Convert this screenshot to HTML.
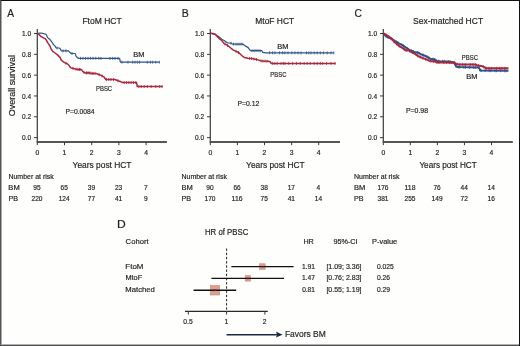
<!DOCTYPE html>
<html><head><meta charset="utf-8"><style>
html,body{margin:0;padding:0;background:#fff;}
body{width:520px;height:346px;overflow:hidden;}
svg{display:block;}
text{font-family:"Liberation Sans", sans-serif;fill:#1e1e1e;stroke:#1e1e1e;stroke-width:0.18px;}
svg{will-change:transform;}
</style></head><body>
<svg width="520" height="346" viewBox="0 0 520 346">
<rect x="0" y="0" width="520" height="346" fill="#fefefd"/>
<text x="7.23" y="16.5" font-size="10.8" textLength="6.79" lengthAdjust="spacingAndGlyphs">A</text>
<text x="82.4" y="23.6" font-size="8.7" textLength="39.29" lengthAdjust="spacingAndGlyphs">FtoM HCT</text>
<line x1="37.3" y1="29" x2="37.3" y2="142" stroke="#3a3a3a" stroke-width="1.2"/>
<line x1="36.699999999999996" y1="142" x2="166.9" y2="142" stroke="#555" stroke-width="1.9"/>
<line x1="34.0" y1="137.60" x2="37.3" y2="137.60" stroke="#3a3a3a" stroke-width="1"/>
<text x="31.099999999999998" y="140.15" font-size="7.3" text-anchor="end" textLength="9.13" lengthAdjust="spacingAndGlyphs">0.0</text>
<line x1="34.0" y1="116.78" x2="37.3" y2="116.78" stroke="#3a3a3a" stroke-width="1"/>
<text x="31.099999999999998" y="119.33" font-size="7.3" text-anchor="end" textLength="9.13" lengthAdjust="spacingAndGlyphs">0.2</text>
<line x1="34.0" y1="95.96" x2="37.3" y2="95.96" stroke="#3a3a3a" stroke-width="1"/>
<text x="31.099999999999998" y="98.50999999999999" font-size="7.3" text-anchor="end" textLength="9.13" lengthAdjust="spacingAndGlyphs">0.4</text>
<line x1="34.0" y1="75.14" x2="37.3" y2="75.14" stroke="#3a3a3a" stroke-width="1"/>
<text x="31.099999999999998" y="77.68999999999998" font-size="7.3" text-anchor="end" textLength="9.13" lengthAdjust="spacingAndGlyphs">0.6</text>
<line x1="34.0" y1="54.32" x2="37.3" y2="54.32" stroke="#3a3a3a" stroke-width="1"/>
<text x="31.099999999999998" y="56.86999999999999" font-size="7.3" text-anchor="end" textLength="9.13" lengthAdjust="spacingAndGlyphs">0.8</text>
<line x1="34.0" y1="33.50" x2="37.3" y2="33.50" stroke="#3a3a3a" stroke-width="1"/>
<text x="31.099999999999998" y="36.05" font-size="7.3" text-anchor="end" textLength="9.13" lengthAdjust="spacingAndGlyphs">1.0</text>
<line x1="37.30" y1="142" x2="37.30" y2="145.2" stroke="#3a3a3a" stroke-width="1"/>
<text x="37.30" y="154.8" font-size="7.4" text-anchor="middle" textLength="3.79" lengthAdjust="spacingAndGlyphs">0</text>
<line x1="64.50" y1="142" x2="64.50" y2="145.2" stroke="#3a3a3a" stroke-width="1"/>
<text x="64.50" y="154.8" font-size="7.4" text-anchor="middle" textLength="3.79" lengthAdjust="spacingAndGlyphs">1</text>
<line x1="91.70" y1="142" x2="91.70" y2="145.2" stroke="#3a3a3a" stroke-width="1"/>
<text x="91.70" y="154.8" font-size="7.4" text-anchor="middle" textLength="3.79" lengthAdjust="spacingAndGlyphs">2</text>
<line x1="118.90" y1="142" x2="118.90" y2="145.2" stroke="#3a3a3a" stroke-width="1"/>
<text x="118.90" y="154.8" font-size="7.4" text-anchor="middle" textLength="3.79" lengthAdjust="spacingAndGlyphs">3</text>
<line x1="146.10" y1="142" x2="146.10" y2="145.2" stroke="#3a3a3a" stroke-width="1"/>
<text x="146.10" y="154.8" font-size="7.4" text-anchor="middle" textLength="3.79" lengthAdjust="spacingAndGlyphs">4</text>
<text x="72.62" y="167.7" font-size="9.3" textLength="58.87" lengthAdjust="spacingAndGlyphs">Years post HCT</text>
<text x="8.43" y="179.4" font-size="7.3" textLength="45.31" lengthAdjust="spacingAndGlyphs">Number at risk</text>
<text x="8.38" y="190.4" font-size="7.3" textLength="11.34" lengthAdjust="spacingAndGlyphs">BM</text>
<text x="8.41" y="201.3" font-size="7.3" textLength="9.57" lengthAdjust="spacingAndGlyphs">PB</text>
<text x="37.00" y="190.4" font-size="7.3" text-anchor="middle" textLength="7.31" lengthAdjust="spacingAndGlyphs">95</text>
<text x="37.00" y="201.3" font-size="7.3" text-anchor="middle" textLength="10.96" lengthAdjust="spacingAndGlyphs">220</text>
<text x="64.20" y="190.4" font-size="7.3" text-anchor="middle" textLength="7.31" lengthAdjust="spacingAndGlyphs">65</text>
<text x="64.20" y="201.3" font-size="7.3" text-anchor="middle" textLength="10.96" lengthAdjust="spacingAndGlyphs">124</text>
<text x="91.40" y="190.4" font-size="7.3" text-anchor="middle" textLength="7.31" lengthAdjust="spacingAndGlyphs">39</text>
<text x="91.40" y="201.3" font-size="7.3" text-anchor="middle" textLength="7.31" lengthAdjust="spacingAndGlyphs">77</text>
<text x="118.60" y="190.4" font-size="7.3" text-anchor="middle" textLength="7.31" lengthAdjust="spacingAndGlyphs">23</text>
<text x="118.60" y="201.3" font-size="7.3" text-anchor="middle" textLength="7.31" lengthAdjust="spacingAndGlyphs">41</text>
<text x="145.80" y="190.4" font-size="7.3" text-anchor="middle" textLength="3.65" lengthAdjust="spacingAndGlyphs">7</text>
<text x="145.80" y="201.3" font-size="7.3" text-anchor="middle" textLength="3.65" lengthAdjust="spacingAndGlyphs">9</text>
<path d="M37.5,33.3 L40.6,33.0 L42.5,33.3 L44.4,33.9 L46.2,34.3 L46.9,36.1 L47.5,37.4 L48.7,38.6 L50.0,39.5 L51.2,41.1 L52.5,43.0 L53.7,44.9 L55.0,46.1 L56.2,48.0 L59.4,48.0 L60.6,49.2 L61.2,50.9 L68.5,50.8 L69.7,52.3 L71.2,53.5 L75.2,53.5 L75.9,55.9 L76.7,57.0 L78.3,58.3 L119.6,58.4 L120.4,62.2 L159.6,62.2" fill="none" stroke="#2f5287" stroke-width="1.2" stroke-linejoin="round"/>
<path d="M80.5,56.8v3.0M83.0,56.8v3.0M85.5,56.8v3.0M88.0,56.8v3.0M90.5,56.8v3.0M93.0,56.8v3.0M95.8,56.8v3.0M98.8,56.8v3.0M101.0,56.9v3.0M110.0,56.9v3.0M112.7,56.9v3.0M115.0,56.9v3.0M118.0,56.9v3.0M122.0,60.7v3.0M128.0,60.7v3.0M132.7,60.7v3.0M135.0,60.7v3.0M137.3,60.7v3.0M139.6,60.7v3.0M147.3,60.7v3.0M150.4,60.7v3.0M152.7,60.7v3.0M155.8,60.7v3.0M159.3,60.7v3.0M57.0,46.5v3.0M63.0,49.4v3.0M66.0,49.3v3.0M72.0,52.0v3.0" stroke="#2f5287" stroke-width="0.8"/>
<path d="M37.5,33.3 L39.4,34.9 L41.2,36.7 L43.1,37.7 L45.0,38.6 L46.2,39.9 L47.5,42.4 L48.7,44.2 L50.0,46.1 L51.2,49.2 L52.5,51.1 L55.0,53.0 L57.5,54.9 L60.0,57.4 L61.2,59.9 L63.1,61.7 L65.0,62.9 L67.3,63.7 L68.9,65.2 L70.1,67.2 L71.2,68.0 L73.6,68.4 L75.2,69.1 L77.5,69.4 L81.4,69.5 L82.2,70.7 L83.7,72.3 L85.3,73.0 L88.4,72.7 L91.6,73.4 L96.2,73.4 L98.0,74.2 L101.2,75.4 L104.2,77.2 L105.8,79.5 L115.0,79.5 L118.0,80.8 L121.2,81.8 L122.7,82.6 L136.5,82.6 L137.3,86.5 L162.7,86.5" fill="none" stroke="#a7283f" stroke-width="1.5" stroke-linejoin="round"/>
<path d="M66.0,61.7v3.0M73.0,66.8v3.0M76.0,67.7v3.0M79.5,68.0v3.0M84.0,70.9v3.0M86.5,71.4v3.0M89.0,71.3v3.0M92.0,71.9v3.0M95.0,71.9v3.0M99.0,73.1v3.0M102.0,74.4v3.0M106.5,78.0v3.0M108.8,78.0v3.0M111.0,78.0v3.0M113.5,78.0v3.0M118.0,79.3v3.0M124.2,81.1v3.0M126.5,81.1v3.0M128.8,81.1v3.0M131.2,81.1v3.0M133.5,81.1v3.0M135.8,81.1v3.0M138.8,85.0v3.0M141.2,85.0v3.0M144.2,85.0v3.0M147.3,85.0v3.0M151.2,85.0v3.0M155.8,85.0v3.0M159.6,85.0v3.0M162.0,85.0v3.0M78.0,67.9v3.0M80.0,68.0v3.0M87.0,71.3v3.0M90.0,71.6v3.0M93.0,71.9v3.0" stroke="#a7283f" stroke-width="0.8"/>
<text x="133.29" y="56.9" font-size="7.2" textLength="11.23" lengthAdjust="spacingAndGlyphs">BM</text>
<text x="96.01" y="90.8" font-size="7.0" textLength="16.11" lengthAdjust="spacingAndGlyphs">PBSC</text>
<text x="65.45" y="113.75" font-size="7.2" textLength="29.15" lengthAdjust="spacingAndGlyphs">P=0.0084</text>
<text x="181.64" y="16.5" font-size="10.8" textLength="7.02" lengthAdjust="spacingAndGlyphs">B</text>
<text x="255.31" y="23.6" font-size="8.7" textLength="38.89" lengthAdjust="spacingAndGlyphs">MtoF HCT</text>
<line x1="210.3" y1="29" x2="210.3" y2="142" stroke="#3a3a3a" stroke-width="1.2"/>
<line x1="209.70000000000002" y1="142" x2="340" y2="142" stroke="#555" stroke-width="1.9"/>
<line x1="207.0" y1="137.60" x2="210.3" y2="137.60" stroke="#3a3a3a" stroke-width="1"/>
<text x="204.10000000000002" y="140.15" font-size="7.3" text-anchor="end" textLength="9.13" lengthAdjust="spacingAndGlyphs">0.0</text>
<line x1="207.0" y1="116.78" x2="210.3" y2="116.78" stroke="#3a3a3a" stroke-width="1"/>
<text x="204.10000000000002" y="119.33" font-size="7.3" text-anchor="end" textLength="9.13" lengthAdjust="spacingAndGlyphs">0.2</text>
<line x1="207.0" y1="95.96" x2="210.3" y2="95.96" stroke="#3a3a3a" stroke-width="1"/>
<text x="204.10000000000002" y="98.50999999999999" font-size="7.3" text-anchor="end" textLength="9.13" lengthAdjust="spacingAndGlyphs">0.4</text>
<line x1="207.0" y1="75.14" x2="210.3" y2="75.14" stroke="#3a3a3a" stroke-width="1"/>
<text x="204.10000000000002" y="77.68999999999998" font-size="7.3" text-anchor="end" textLength="9.13" lengthAdjust="spacingAndGlyphs">0.6</text>
<line x1="207.0" y1="54.32" x2="210.3" y2="54.32" stroke="#3a3a3a" stroke-width="1"/>
<text x="204.10000000000002" y="56.86999999999999" font-size="7.3" text-anchor="end" textLength="9.13" lengthAdjust="spacingAndGlyphs">0.8</text>
<line x1="207.0" y1="33.50" x2="210.3" y2="33.50" stroke="#3a3a3a" stroke-width="1"/>
<text x="204.10000000000002" y="36.05" font-size="7.3" text-anchor="end" textLength="9.13" lengthAdjust="spacingAndGlyphs">1.0</text>
<line x1="210.30" y1="142" x2="210.30" y2="145.2" stroke="#3a3a3a" stroke-width="1"/>
<text x="210.30" y="154.8" font-size="7.4" text-anchor="middle" textLength="3.79" lengthAdjust="spacingAndGlyphs">0</text>
<line x1="237.40" y1="142" x2="237.40" y2="145.2" stroke="#3a3a3a" stroke-width="1"/>
<text x="237.40" y="154.8" font-size="7.4" text-anchor="middle" textLength="3.79" lengthAdjust="spacingAndGlyphs">1</text>
<line x1="264.50" y1="142" x2="264.50" y2="145.2" stroke="#3a3a3a" stroke-width="1"/>
<text x="264.50" y="154.8" font-size="7.4" text-anchor="middle" textLength="3.79" lengthAdjust="spacingAndGlyphs">2</text>
<line x1="291.60" y1="142" x2="291.60" y2="145.2" stroke="#3a3a3a" stroke-width="1"/>
<text x="291.60" y="154.8" font-size="7.4" text-anchor="middle" textLength="3.79" lengthAdjust="spacingAndGlyphs">3</text>
<line x1="318.70" y1="142" x2="318.70" y2="145.2" stroke="#3a3a3a" stroke-width="1"/>
<text x="318.70" y="154.8" font-size="7.4" text-anchor="middle" textLength="3.79" lengthAdjust="spacingAndGlyphs">4</text>
<text x="246.12" y="167.7" font-size="9.3" textLength="58.47" lengthAdjust="spacingAndGlyphs">Years post HCT</text>
<text x="181.53" y="179.4" font-size="7.3" textLength="45.36" lengthAdjust="spacingAndGlyphs">Number at risk</text>
<text x="181.48" y="190.4" font-size="7.3" textLength="11.34" lengthAdjust="spacingAndGlyphs">BM</text>
<text x="181.51" y="201.3" font-size="7.3" textLength="9.57" lengthAdjust="spacingAndGlyphs">PB</text>
<text x="210.00" y="190.4" font-size="7.3" text-anchor="middle" textLength="7.31" lengthAdjust="spacingAndGlyphs">90</text>
<text x="210.00" y="201.3" font-size="7.3" text-anchor="middle" textLength="10.96" lengthAdjust="spacingAndGlyphs">170</text>
<text x="237.10" y="190.4" font-size="7.3" text-anchor="middle" textLength="7.31" lengthAdjust="spacingAndGlyphs">66</text>
<text x="237.10" y="201.3" font-size="7.3" text-anchor="middle" textLength="10.96" lengthAdjust="spacingAndGlyphs">116</text>
<text x="264.20" y="190.4" font-size="7.3" text-anchor="middle" textLength="7.31" lengthAdjust="spacingAndGlyphs">38</text>
<text x="264.20" y="201.3" font-size="7.3" text-anchor="middle" textLength="7.31" lengthAdjust="spacingAndGlyphs">75</text>
<text x="291.30" y="190.4" font-size="7.3" text-anchor="middle" textLength="7.31" lengthAdjust="spacingAndGlyphs">17</text>
<text x="291.30" y="201.3" font-size="7.3" text-anchor="middle" textLength="7.31" lengthAdjust="spacingAndGlyphs">41</text>
<text x="318.40" y="190.4" font-size="7.3" text-anchor="middle" textLength="3.65" lengthAdjust="spacingAndGlyphs">4</text>
<text x="318.40" y="201.3" font-size="7.3" text-anchor="middle" textLength="7.31" lengthAdjust="spacingAndGlyphs">14</text>
<path d="M210.5,33.3 L214.2,34.2 L216.7,35.5 L219.2,37.0 L221.7,39.2 L224.2,40.5 L226.7,42.4 L228.0,43.0 L231.1,43.2 L233.0,44.2 L243.0,44.2 L245.5,46.1 L248.0,47.4 L249.2,49.2 L250.5,50.7 L261.7,50.7 L263.0,52.4 L265.5,52.8 L333.8,52.9" fill="none" stroke="#2f5287" stroke-width="1.2" stroke-linejoin="round"/>
<path d="M269.5,51.3v3.0M272.6,51.3v3.0M274.9,51.3v3.0M279.5,51.3v3.0M282.6,51.3v3.0M284.9,51.3v3.0M288.0,51.3v3.0M291.8,51.3v3.0M294.9,51.3v3.0M298.0,51.3v3.0M301.0,51.4v3.0M306.5,51.4v3.0M308.8,51.4v3.0M311.0,51.4v3.0M314.2,51.4v3.0M317.2,51.4v3.0M320.3,51.4v3.0M323.4,51.4v3.0M327.2,51.4v3.0M331.0,51.4v3.0M333.8,51.4v3.0M231.0,41.7v3.0M233.5,42.7v3.0M236.0,42.7v3.0M238.0,42.7v3.0M240.0,42.7v3.0M242.0,42.7v3.0M252.0,49.2v3.0M254.0,49.2v3.0M256.0,49.2v3.0M258.0,49.2v3.0M260.0,49.2v3.0" stroke="#2f5287" stroke-width="0.8"/>
<path d="M210.5,33.3 L213.0,33.6 L215.5,34.2 L217.4,36.7 L219.2,38.6 L221.7,40.5 L224.2,43.6 L226.7,44.9 L229.2,46.7 L233.0,49.9 L236.7,51.7 L239.2,53.0 L241.7,55.5 L244.2,57.4 L248.0,58.2 L251.7,58.6 L255.5,59.2 L258.0,59.9 L260.5,60.7 L263.0,61.1 L268.0,61.2 L270.3,61.8 L271.1,63.4 L335.7,63.4" fill="none" stroke="#a7283f" stroke-width="1.5" stroke-linejoin="round"/>
<path d="M272.6,61.9v3.0M274.9,61.9v3.0M277.2,61.9v3.0M281.0,61.9v3.0M283.4,61.9v3.0M284.9,61.9v3.0M288.8,61.9v3.0M292.6,61.9v3.0M296.5,61.9v3.0M300.3,61.9v3.0M304.2,61.9v3.0M307.2,61.9v3.0M310.3,61.9v3.0M314.2,61.9v3.0M317.2,61.9v3.0M320.3,61.9v3.0M322.6,61.9v3.0M326.5,61.9v3.0M331.0,61.9v3.0M334.9,61.9v3.0M225.0,42.5v3.0M227.5,44.0v3.0M236.0,49.9v3.0M238.5,51.1v3.0M249.5,56.9v3.0M251.5,57.1v3.0M254.0,57.5v3.0M256.5,58.0v3.0M261.0,59.3v3.0M263.0,59.6v3.0M265.0,59.6v3.0M267.0,59.7v3.0" stroke="#a7283f" stroke-width="0.8"/>
<text x="277.39" y="49.2" font-size="7.2" textLength="11.23" lengthAdjust="spacingAndGlyphs">BM</text>
<text x="270.31" y="77.2" font-size="7.0" textLength="16.11" lengthAdjust="spacingAndGlyphs">PBSC</text>
<text x="237.54" y="106.4" font-size="7.2" textLength="21.8" lengthAdjust="spacingAndGlyphs">P=0.12</text>
<text x="354.48" y="16.5" font-size="10.8" textLength="7.41" lengthAdjust="spacingAndGlyphs">C</text>
<text x="413.11" y="23.6" font-size="8.7" textLength="69.98" lengthAdjust="spacingAndGlyphs">Sex-matched HCT</text>
<line x1="383.3" y1="29" x2="383.3" y2="142" stroke="#3a3a3a" stroke-width="1.2"/>
<line x1="382.7" y1="142" x2="512.8" y2="142" stroke="#555" stroke-width="1.9"/>
<line x1="380.0" y1="137.60" x2="383.3" y2="137.60" stroke="#3a3a3a" stroke-width="1"/>
<text x="377.1" y="140.15" font-size="7.3" text-anchor="end" textLength="9.13" lengthAdjust="spacingAndGlyphs">0.0</text>
<line x1="380.0" y1="116.78" x2="383.3" y2="116.78" stroke="#3a3a3a" stroke-width="1"/>
<text x="377.1" y="119.33" font-size="7.3" text-anchor="end" textLength="9.13" lengthAdjust="spacingAndGlyphs">0.2</text>
<line x1="380.0" y1="95.96" x2="383.3" y2="95.96" stroke="#3a3a3a" stroke-width="1"/>
<text x="377.1" y="98.50999999999999" font-size="7.3" text-anchor="end" textLength="9.13" lengthAdjust="spacingAndGlyphs">0.4</text>
<line x1="380.0" y1="75.14" x2="383.3" y2="75.14" stroke="#3a3a3a" stroke-width="1"/>
<text x="377.1" y="77.68999999999998" font-size="7.3" text-anchor="end" textLength="9.13" lengthAdjust="spacingAndGlyphs">0.6</text>
<line x1="380.0" y1="54.32" x2="383.3" y2="54.32" stroke="#3a3a3a" stroke-width="1"/>
<text x="377.1" y="56.86999999999999" font-size="7.3" text-anchor="end" textLength="9.13" lengthAdjust="spacingAndGlyphs">0.8</text>
<line x1="380.0" y1="33.50" x2="383.3" y2="33.50" stroke="#3a3a3a" stroke-width="1"/>
<text x="377.1" y="36.05" font-size="7.3" text-anchor="end" textLength="9.13" lengthAdjust="spacingAndGlyphs">1.0</text>
<line x1="383.30" y1="142" x2="383.30" y2="145.2" stroke="#3a3a3a" stroke-width="1"/>
<text x="383.30" y="154.8" font-size="7.4" text-anchor="middle" textLength="3.79" lengthAdjust="spacingAndGlyphs">0</text>
<line x1="410.35" y1="142" x2="410.35" y2="145.2" stroke="#3a3a3a" stroke-width="1"/>
<text x="410.35" y="154.8" font-size="7.4" text-anchor="middle" textLength="3.79" lengthAdjust="spacingAndGlyphs">1</text>
<line x1="437.40" y1="142" x2="437.40" y2="145.2" stroke="#3a3a3a" stroke-width="1"/>
<text x="437.40" y="154.8" font-size="7.4" text-anchor="middle" textLength="3.79" lengthAdjust="spacingAndGlyphs">2</text>
<line x1="464.45" y1="142" x2="464.45" y2="145.2" stroke="#3a3a3a" stroke-width="1"/>
<text x="464.45" y="154.8" font-size="7.4" text-anchor="middle" textLength="3.79" lengthAdjust="spacingAndGlyphs">3</text>
<line x1="491.50" y1="142" x2="491.50" y2="145.2" stroke="#3a3a3a" stroke-width="1"/>
<text x="491.50" y="154.8" font-size="7.4" text-anchor="middle" textLength="3.79" lengthAdjust="spacingAndGlyphs">4</text>
<text x="419.42" y="167.7" font-size="9.3" textLength="57.26" lengthAdjust="spacingAndGlyphs">Years post HCT</text>
<text x="354.03" y="179.4" font-size="7.3" textLength="45.36" lengthAdjust="spacingAndGlyphs">Number at risk</text>
<text x="353.98" y="190.4" font-size="7.3" textLength="11.34" lengthAdjust="spacingAndGlyphs">BM</text>
<text x="354.01" y="201.3" font-size="7.3" textLength="9.57" lengthAdjust="spacingAndGlyphs">PB</text>
<text x="383.00" y="190.4" font-size="7.3" text-anchor="middle" textLength="10.96" lengthAdjust="spacingAndGlyphs">176</text>
<text x="383.00" y="201.3" font-size="7.3" text-anchor="middle" textLength="10.96" lengthAdjust="spacingAndGlyphs">381</text>
<text x="410.05" y="190.4" font-size="7.3" text-anchor="middle" textLength="10.96" lengthAdjust="spacingAndGlyphs">118</text>
<text x="410.05" y="201.3" font-size="7.3" text-anchor="middle" textLength="10.96" lengthAdjust="spacingAndGlyphs">255</text>
<text x="437.10" y="190.4" font-size="7.3" text-anchor="middle" textLength="7.31" lengthAdjust="spacingAndGlyphs">76</text>
<text x="437.10" y="201.3" font-size="7.3" text-anchor="middle" textLength="10.96" lengthAdjust="spacingAndGlyphs">149</text>
<text x="464.15" y="190.4" font-size="7.3" text-anchor="middle" textLength="7.31" lengthAdjust="spacingAndGlyphs">44</text>
<text x="464.15" y="201.3" font-size="7.3" text-anchor="middle" textLength="7.31" lengthAdjust="spacingAndGlyphs">72</text>
<text x="491.20" y="190.4" font-size="7.3" text-anchor="middle" textLength="7.31" lengthAdjust="spacingAndGlyphs">14</text>
<text x="491.20" y="201.3" font-size="7.3" text-anchor="middle" textLength="7.31" lengthAdjust="spacingAndGlyphs">16</text>
<path d="M383.5,33.5 L386.2,36.6 L391.7,38.9 L395.0,41.1 L398.9,43.4 L402.8,45.4 L406.7,48.1 L410.6,50.5 L414.5,52.0 L416.9,52.4 L418.4,52.8 L422.3,54.8 L426.2,56.3 L430.2,58.7 L435.0,59.6 L436.9,60.9 L440.0,61.2 L447.8,61.6 L453.9,62.2 L455.5,65.2 L456.2,66.7 L459.4,67.1 L478.1,67.5 L479.7,68.7 L480.1,70.6 L508.5,70.8" fill="none" stroke="#2f5287" stroke-width="2.0" stroke-linejoin="round"/>
<path d="M388.0,35.9v3.0M392.1,37.7v3.0M396.2,40.3v3.0M397.8,41.3v3.0M401.9,43.4v3.0M403.5,44.4v3.0M407.6,47.2v3.0M411.7,49.4v3.0M413.3,50.0v3.0M417.4,51.0v3.0M419.0,51.6v3.0M423.1,53.6v3.0M427.2,55.4v3.0M428.8,56.3v3.0M432.9,57.7v3.0M434.5,58.0v3.0M438.6,59.6v3.0M442.7,59.8v3.0M444.3,59.9v3.0M448.4,60.2v3.0M450.0,60.3v3.0M454.1,61.1v3.0M458.2,65.5v3.0M459.8,65.6v3.0M463.9,65.7v3.0M465.5,65.7v3.0M469.6,65.8v3.0M473.7,65.9v3.0M475.3,65.9v3.0M479.4,67.0v3.0M481.0,69.1v3.0M485.1,69.1v3.0M489.2,69.2v3.0M490.8,69.2v3.0M494.9,69.2v3.0M496.5,69.2v3.0M500.6,69.2v3.0M504.7,69.3v3.0M506.3,69.3v3.0" stroke="#2f5287" stroke-width="0.8"/>
<path d="M383.5,33.5 L387.8,35.8 L391.7,38.9 L395.0,42.6 L398.9,45.8 L402.8,48.1 L405.9,50.5 L408.3,50.1 L410.6,51.6 L414.5,53.6 L418.4,56.3 L422.3,57.9 L426.2,59.4 L430.2,61.0 L435.0,61.4 L436.9,62.5 L441.6,62.6 L447.8,62.6 L451.7,62.7 L454.7,62.8 L456.2,64.0 L459.4,64.6 L475.8,64.6 L477.3,65.4 L481.2,65.9 L484.4,67.1 L485.9,68.3 L508.5,68.3" fill="none" stroke="#a7283f" stroke-width="2.0" stroke-linejoin="round"/>
<path d="M386.0,33.3v3.0M391.1,36.9v3.0M393.8,39.8v3.0M396.5,42.3v3.0M399.2,44.5v3.0M404.3,47.8v3.0M407.0,48.8v3.0M409.7,49.5v3.0M412.4,51.0v3.0M417.5,54.2v3.0M420.2,55.5v3.0M422.9,56.6v3.0M425.6,57.7v3.0M430.7,59.5v3.0M433.4,59.8v3.0M436.1,60.5v3.0M438.8,61.0v3.0M443.9,61.1v3.0M446.6,61.1v3.0M449.3,61.1v3.0M452.0,61.2v3.0M457.1,62.7v3.0M459.8,63.1v3.0M462.5,63.1v3.0M465.2,63.1v3.0M470.3,63.1v3.0M473.0,63.1v3.0M475.7,63.1v3.0M478.4,64.0v3.0M483.5,65.3v3.0M486.2,66.8v3.0M488.9,66.8v3.0M491.6,66.8v3.0M496.7,66.8v3.0M499.4,66.8v3.0M502.1,66.8v3.0M504.8,66.8v3.0" stroke="#a7283f" stroke-width="0.8"/>
<text x="461.81" y="60.4" font-size="7.0" textLength="16.11" lengthAdjust="spacingAndGlyphs">PBSC</text>
<text x="466.29" y="79.2" font-size="7.2" textLength="11.23" lengthAdjust="spacingAndGlyphs">BM</text>
<text x="405.93" y="113.1" font-size="7.2" textLength="22.12" lengthAdjust="spacingAndGlyphs">P=0.98</text>
<text transform="translate(14.8,116.2) rotate(-90)" font-size="9.5" textLength="61.2" lengthAdjust="spacingAndGlyphs">Overall survival</text>
<text x="117.11" y="227.75" font-size="10.0" textLength="8.72" lengthAdjust="spacingAndGlyphs">D</text>
<text x="204.96" y="234.8" font-size="9.0" textLength="43.44" lengthAdjust="spacingAndGlyphs">HR of PBSC</text>
<text x="125.61" y="244" font-size="8.0" textLength="22.94" lengthAdjust="spacingAndGlyphs">Cohort</text>
<text x="303.41" y="243.75" font-size="7.3" textLength="10.43" lengthAdjust="spacingAndGlyphs">HR</text>
<text x="333.41" y="243.75" font-size="7.3" textLength="24.16" lengthAdjust="spacingAndGlyphs">95%-CI</text>
<text x="372.14" y="243.75" font-size="7.3" textLength="25.09" lengthAdjust="spacingAndGlyphs">P-value</text>
<line x1="226.6" y1="248.5" x2="226.6" y2="311" stroke="#222" stroke-width="1" stroke-dasharray="2.4,1.8"/>
<text x="125.35" y="269" font-size="7.4" textLength="18.05" lengthAdjust="spacingAndGlyphs">FtoM</text>
<rect x="259.56" y="263.80" width="5.6" height="5.6" fill="#dda192" stroke="#cc8272" stroke-width="0.6"/>
<line x1="231.36" y1="266.6" x2="293.57" y2="266.6" stroke="#111" stroke-width="1.4"/>
<circle cx="262.36" cy="266.6" r="0.9" fill="#333"/>
<text x="301.89" y="269" font-size="7.3" textLength="13.04" lengthAdjust="spacingAndGlyphs">1.91</text>
<text x="326.4" y="269" font-size="7.3" textLength="35.1" lengthAdjust="spacingAndGlyphs">[1.09; 3.36]</text>
<text x="376.9" y="269" font-size="7.3" textLength="16.81" lengthAdjust="spacingAndGlyphs">0.025</text>
<text x="125.39" y="280.4" font-size="7.4" textLength="16.8" lengthAdjust="spacingAndGlyphs">MtoF</text>
<rect x="245.19" y="275.70" width="5.4" height="5.4" fill="#dda192" stroke="#cc8272" stroke-width="0.6"/>
<line x1="211.44" y1="278.4" x2="284.08" y2="278.4" stroke="#111" stroke-width="1.4"/>
<circle cx="247.89" cy="278.4" r="0.9" fill="#333"/>
<text x="301.89" y="280.4" font-size="7.3" textLength="13.05" lengthAdjust="spacingAndGlyphs">1.47</text>
<text x="326.4" y="280.4" font-size="7.3" textLength="35.1" lengthAdjust="spacingAndGlyphs">[0.76; 2.83]</text>
<text x="376.9" y="280.4" font-size="7.3" textLength="13.07" lengthAdjust="spacingAndGlyphs">0.26</text>
<text x="125.37" y="292.2" font-size="7.4" textLength="29.53" lengthAdjust="spacingAndGlyphs">Matched</text>
<rect x="210.26" y="285.60" width="9.4" height="9.4" fill="#dda192" stroke="#cc8272" stroke-width="0.6"/>
<line x1="193.57" y1="290.3" x2="236.21" y2="290.3" stroke="#111" stroke-width="1.4"/>
<circle cx="214.96" cy="290.3" r="0.9" fill="#333"/>
<text x="302.14" y="292.2" font-size="7.3" textLength="12.78" lengthAdjust="spacingAndGlyphs">0.81</text>
<text x="326.4" y="292.2" font-size="7.3" textLength="35.1" lengthAdjust="spacingAndGlyphs">[0.55; 1.19]</text>
<text x="376.9" y="292.2" font-size="7.3" textLength="13.07" lengthAdjust="spacingAndGlyphs">0.29</text>
<line x1="185" y1="311.3" x2="267.75" y2="311.3" stroke="#2a2a2a" stroke-width="1.3"/>
<line x1="188.30" y1="311" x2="188.30" y2="314.6" stroke="#3a3a3a" stroke-width="1"/>
<text x="188.00" y="324.2" font-size="7.3" text-anchor="middle" textLength="9.34" lengthAdjust="spacingAndGlyphs">0.5</text>
<line x1="226.60" y1="311" x2="226.60" y2="314.6" stroke="#3a3a3a" stroke-width="1"/>
<text x="226.30" y="324.2" font-size="7.3" text-anchor="middle" textLength="3.74" lengthAdjust="spacingAndGlyphs">1</text>
<line x1="264.90" y1="311" x2="264.90" y2="314.6" stroke="#3a3a3a" stroke-width="1"/>
<text x="264.60" y="324.2" font-size="7.3" text-anchor="middle" textLength="3.74" lengthAdjust="spacingAndGlyphs">2</text>
<line x1="226.6" y1="334.7" x2="279" y2="334.7" stroke="#1b2742" stroke-width="1.5"/>
<path d="M275.8,331.6 L282.6,334.7 L275.8,337.6 L277.3,334.7 Z" fill="#1b2742"/>
<text x="284.91" y="336.9" font-size="9.2" textLength="40.78" lengthAdjust="spacingAndGlyphs">Favors BM</text>
<rect x="0" y="0" width="520" height="1" fill="#111"/>
<rect x="0" y="0" width="1" height="346" fill="#555"/>
<rect x="1" y="1" width="1" height="343" fill="#aaa"/>
<rect x="519" y="0" width="1" height="346" fill="#111"/>
<rect x="0" y="345" width="519" height="1" fill="#505050"/>
<rect x="1" y="344" width="518" height="1" fill="#b0b0b0"/>
</svg>
</body></html>
